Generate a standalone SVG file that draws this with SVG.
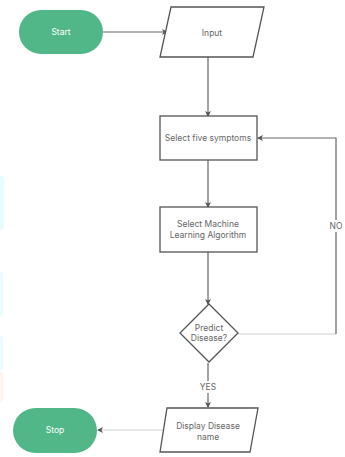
<svg xmlns="http://www.w3.org/2000/svg" width="345" height="457" viewBox="0 0 345 457">
<style>
.t{font-family:Inter,"Liberation Sans",sans-serif;font-size:8.5px;fill:#666;text-anchor:middle;dominant-baseline:central}
.tw{font-family:Inter,"Liberation Sans",sans-serif;font-size:8.5px;fill:#fff;text-anchor:middle;dominant-baseline:central}
.s{fill:#fff;stroke:#555;stroke-width:1.3}
.term{fill:#52b788}
.c{fill:none;stroke:#666;stroke-width:1.2}
.cl{fill:none;stroke:#ccc;stroke-width:1}
</style>
<defs>
<marker id="a" markerWidth="6" markerHeight="6" refX="5" refY="3" orient="auto" markerUnits="userSpaceOnUse">
<path d="M0,0 L6,3 L0,6 L1.5,3 Z" fill="#555"/>
</marker>
</defs>
<rect width="345" height="457" fill="#fff"/>
<g id="edge-deco" opacity="0.6">
<rect x="-6" y="176" width="10" height="54" rx="4" fill="#d6fbfd"/>
<rect x="-6" y="272" width="9" height="44" rx="3" fill="#d6fbfd"/>
<rect x="-6" y="336" width="9" height="34" rx="3" fill="#d6fbfd"/>
<rect x="-6" y="372" width="9" height="30" rx="3" fill="#fdeee0"/>
</g>
<g id="connectors">
<line class="c" x1="103" y1="32" x2="167" y2="32" marker-end="url(#a)"/>
<line class="c" x1="208" y1="57" x2="208" y2="116" marker-end="url(#a)"/>
<line class="c" x1="208" y1="160" x2="208" y2="207" marker-end="url(#a)"/>
<line class="c" x1="208" y1="252" x2="208" y2="304" marker-end="url(#a)"/>
<polyline class="cl" points="238,334 336,334"/>
<polyline class="c" points="336,334 336,138 258,138" marker-end="url(#a)"/>
<line class="c" x1="208" y1="363" x2="208" y2="407" marker-end="url(#a)"/>
<line class="cl" x1="163" y1="430" x2="98" y2="430" marker-end="url(#a)"/>
<rect x="326" y="220" width="20" height="12" fill="#fff"/>
<text class="t" x="336" y="226">NO</text>
<rect x="198" y="381" width="20" height="12" fill="#fff"/>
<text class="t" x="208" y="387">YES</text>
</g>
<g id="start">
<rect class="term" x="19" y="10" width="84" height="44" rx="22"/>
<text class="tw" x="61" y="32">Start</text>
</g>
<g id="input">
<polygon class="s" points="171,7 264,7 253,57 160,57"/>
<text class="t" x="212" y="33">Input</text>
</g>
<g id="select-symptoms">
<rect class="s" x="160" y="116" width="97" height="44"/>
<text class="t" x="208" y="138">Select five symptoms</text>
</g>
<g id="select-ml">
<rect class="s" x="160" y="207" width="97" height="45"/>
<text class="t" x="208" y="224">Select Machine</text>
<text class="t" x="208" y="235">Learning Algorithm</text>
</g>
<g id="predict">
<polygon class="s" points="209,304 238,333 209,362 180,333"/>
<text class="t" x="209" y="328">Predict</text>
<text class="t" x="209" y="338">Disease?</text>
</g>
<g id="display">
<polygon class="s" points="167,408 258,408 250,452 160,452"/>
<text class="t" x="208" y="426">Display Disease</text>
<text class="t" x="208" y="437">name</text>
</g>
<g id="stop">
<rect class="term" x="13" y="408" width="84" height="45" rx="22.5"/>
<text class="tw" x="55" y="430">Stop</text>
</g>
</svg>
